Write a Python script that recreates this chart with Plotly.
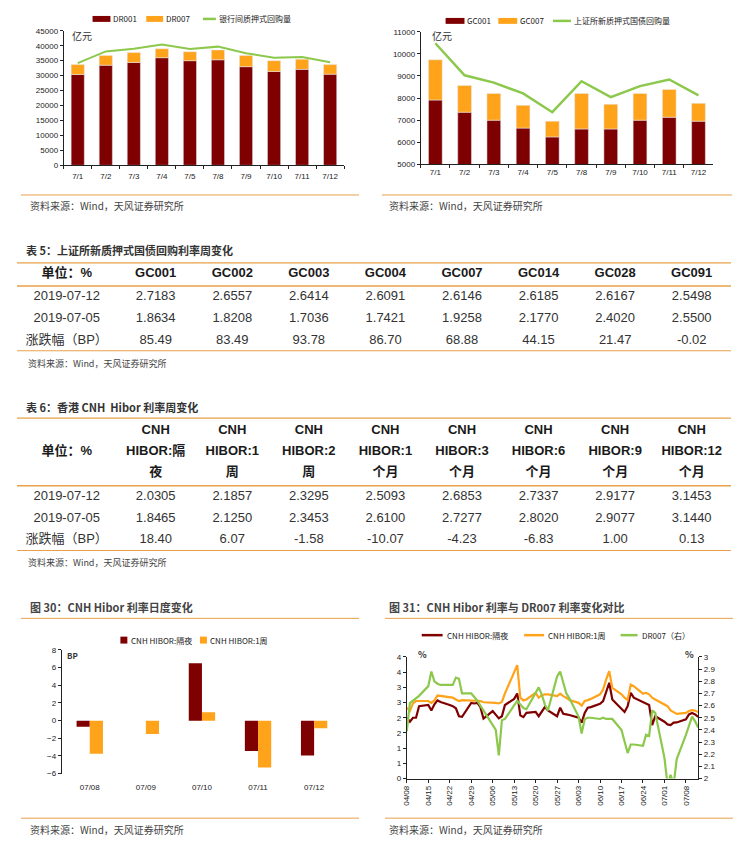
import plotly.graph_objects as go
import pandas as pd

# page size; the browser body keeps its default 8px margin, so the figure is drawn
# 16px smaller and all page coordinates are shifted by that margin
PAGE_W, PAGE_H = 741, 845
OFF = 8
W, H = PAGE_W - 2 * OFF, PAGE_H - 2 * OFF

# ---------------- data ----------------
top_days = ['7/1', '7/2', '7/3', '7/4', '7/5', '7/8', '7/9', '7/10', '7/11', '7/12']
dr001 = [30400, 33500, 34400, 36000, 35000, 35300, 33000, 31400, 32100, 30500]
dr007 = [3300, 3200, 3300, 3000, 3000, 3300, 3700, 3600, 3400, 3200]
interbank_repo = [34200, 38100, 39000, 40400, 38900, 39700, 37500, 36000, 36200, 34500]

gc001 = [7910, 7360, 7000, 6640, 6240, 6600, 6600, 7000, 7130, 6955]
gc007 = [1820, 1210, 1210, 1030, 715, 1610, 1120, 1210, 1260, 805]
sse_repo = [10480, 9030, 8700, 8210, 7360, 8760, 8040, 8540, 8840, 8120]

t5_header = ['单位：%', 'GC001', 'GC002', 'GC003', 'GC004', 'GC007', 'GC014', 'GC028', 'GC091']
t5_row_labels = ['2019-07-12', '2019-07-05', '涨跌幅（BP）']
t5_r1 = ['2.7183', '2.6557', '2.6414', '2.6091', '2.6146', '2.6185', '2.6167', '2.5498']
t5_r2 = ['1.8634', '1.8208', '1.7036', '1.7421', '1.9258', '2.1770', '2.4020', '2.5500']
t5_r3 = ['85.49', '83.49', '93.78', '86.70', '68.88', '44.15', '21.47', '-0.02']

t6_header_l1 = ['', 'CNH', 'CNH', 'CNH', 'CNH', 'CNH', 'CNH', 'CNH', 'CNH']
t6_header_l2 = ['单位：%', 'HIBOR:隔', 'HIBOR:1', 'HIBOR:2', 'HIBOR:1', 'HIBOR:3', 'HIBOR:6', 'HIBOR:9', 'HIBOR:12']
t6_header_l3 = ['', '夜', '周', '周', '个月', '个月', '个月', '个月', '个月']
t6_row_labels = ['2019-07-12', '2019-07-05', '涨跌幅（BP）']
t6_r1 = ['2.0305', '2.1857', '2.3295', '2.5093', '2.6853', '2.7337', '2.9177', '3.1453']
t6_r2 = ['1.8465', '2.1250', '2.3453', '2.6100', '2.7277', '2.8020', '2.9077', '3.1440']
t6_r3 = ['18.40', '6.07', '-1.58', '-10.07', '-4.23', '-6.83', '1.00', '0.13']

daily_dates = ['07/08', '07/09', '07/10', '07/11', '07/12']
hibor_on_chg = [-0.7, None, 6.5, -3.45, -3.95]
hibor_1w_chg = [-3.75, -1.5, 0.95, -5.3, -0.85]

hibor_dates = pd.bdate_range('2019-04-08', '2019-07-12')
hibor_on = [2.00, 1.87, 2.00, 2.00, 2.38,
            2.42, 2.24, 2.44, 2.57, 2.52,
            2.42, 2.38, 2.31, 2.05, 2.03,
            2.49, 2.47, 2.49, 2.35, 1.97,
            2.22, 2.11, 1.98, 2.05, 2.42,
            2.62, 2.80, 2.08, 2.02, 2.16,
            2.19, 2.05, 2.20, 2.35, 2.24,
            2.05, 2.33, 2.13, 2.11, 2.09,
            2.00, 1.84, 2.16, 2.33, 2.35,
            2.46, 2.55, 2.87, 3.15, 2.60,
            2.27, 2.19, 2.38, 2.82, 2.66,
            2.52, 2.46, 2.42, 1.76, 2.05,
            1.87, 1.78, 1.76, 1.84, 1.8465,
            1.95, 2.11, 2.16, 2.11, 2.0305]
hibor_1w = [2.33, 2.22, 2.47, 2.55, 2.55,
            2.55, 2.49, 2.57, 2.73, 2.72,
            2.67, 2.66, 2.60, 2.55, 2.58,
            2.57, 2.57, 2.57, 2.55, 2.51,
            2.51, 2.49, 2.47, 2.52, 2.80,
            3.48, 3.73, 2.66, 2.57, 2.60,
            2.82, 2.66, 2.74, 2.77, 2.77,
            2.71, 2.79, 2.71, 2.66, 2.58,
            2.49, 2.40, 2.55, 2.58, 2.62,
            2.77, 2.93, 3.26, 3.53, 2.98,
            2.77, 2.66, 2.58, 3.09, 3.04,
            2.79, 2.82, 2.77, 2.66, 2.60,
            2.44, 2.38, 2.24, 2.19, 2.125,
            2.16, 2.22, 2.25, 2.24, 2.1857]
dr007_rate = [2.39, 2.62, 2.64, 2.66, 2.68,
              2.76, 2.88, 2.80, 2.78, 2.77,
              2.77, 2.77, 2.83, 2.82, 2.70,
              2.70, 2.67, 2.64, 2.60, 2.56,
              2.45, 2.40, 2.19, 2.48, 2.49,
              2.61, 2.64, 2.61, 2.58, 2.57,
              2.70, 2.75, 2.69, 2.61, 2.56,
              2.84, 2.88, 2.79, 2.70, 2.66,
              2.51, 2.37, 2.49, 2.50, 2.50,
              2.49, 2.50, 2.49, 2.49, 2.49,
              2.40, 2.30, 2.21, 2.28, 2.28,
              2.27, 2.36, 2.35, 2.56, 2.54,
              2.17, 1.95, 2.03, 1.95, 2.16,
              2.36, 2.44, 2.51, 2.47, 2.42]
hibor_tick_dates = pd.date_range('2019-04-08', '2019-07-08', freq='7D')
left_ticks = [0, 0.5, 1, 1.5, 2, 2.5, 3, 3.5, 4]
left_ticktext = ['0', '1', '1', '2', '2', '3', '3', '4', '4']
right_ticks = [2, 2.1, 2.2, 2.3, 2.4, 2.5, 2.6, 2.7, 2.8, 2.9, 3]
right_ticktext = ['2', '2.1', '2.2', '2.3', '2.4', '2.5', '2.6', '2.7', '2.8', '2.9', '3']

# ---------------- styles ----------------
DARK = '#7F0000'
ORANGE = '#FFA31A'
GREEN = '#8CC84B'
RULE = '#E8A04A'
TXT = '#333333'
FONT = 'Liberation Sans, Noto Sans CJK SC, sans-serif'
CJK = 'Noto Sans CJK SC, Liberation Sans, sans-serif'


def px(x):
    return (x - OFF) / W


def py(y):
    return 1 - (y - OFF) / H


fig = go.Figure()

# chart 1
fig.add_trace(go.Bar(x=top_days, y=dr001, name='DR001', marker_color=DARK, xaxis='x', yaxis='y'))
fig.add_trace(go.Bar(x=top_days, y=dr007, name='DR007', marker_color=ORANGE, xaxis='x', yaxis='y'))
fig.add_trace(go.Scatter(x=top_days, y=interbank_repo, name='银行间质押式回购量', mode='lines',
                         line=dict(color=GREEN, width=2), xaxis='x', yaxis='y'))
# chart 2
fig.add_trace(go.Bar(x=top_days, y=gc001, name='GC001', marker_color=DARK, xaxis='x2', yaxis='y2'))
fig.add_trace(go.Bar(x=top_days, y=gc007, name='GC007', marker_color=ORANGE, xaxis='x2', yaxis='y2'))
fig.add_trace(go.Scatter(x=top_days, y=sse_repo, name='上证所新质押式国债回购量', mode='lines',
                         line=dict(color=GREEN, width=2.5), xaxis='x2', yaxis='y2'))
# chart 30
fig.add_trace(go.Bar(x=daily_dates, y=hibor_on_chg, name='CNH HIBOR:隔夜', marker_color=DARK,
                     marker_line_width=0, xaxis='x3', yaxis='y3', offsetgroup='a'))
fig.add_trace(go.Bar(x=daily_dates, y=hibor_1w_chg, name='CNH HIBOR:1周', marker_color=ORANGE,
                     marker_line_width=0, xaxis='x3', yaxis='y3', offsetgroup='b'))
# chart 31
fig.add_trace(go.Scatter(x=hibor_dates, y=hibor_on, name='CNH HIBOR:隔夜', mode='lines',
                         line=dict(color=DARK, width=2.2), xaxis='x4', yaxis='y4'))
fig.add_trace(go.Scatter(x=hibor_dates, y=hibor_1w, name='CNH HIBOR:1周', mode='lines',
                         line=dict(color=ORANGE, width=2.2), xaxis='x4', yaxis='y4'))
fig.add_trace(go.Scatter(x=hibor_dates, y=dr007_rate, name='DR007（右）', mode='lines',
                         line=dict(color=GREEN, width=2.2), xaxis='x4', yaxis='y6'))

# ---------------- tables as text on hidden axes ----------------
colw = [102] + [77] * 8
col_centers = [sum(colw[:i]) + colw[i] / 2 for i in range(len(colw))]
TAB_W = sum(colw)
ROW_H = 22
HEAD5_H = 24
HEAD6_H = 69
LINE_H = 21


def table_text(xa, ya, xs, ys, texts, bold=False, color=TXT):
    fig.add_trace(go.Scatter(
        x=xs, y=ys, text=[('<b>%s</b>' % t) if (bold and t) else t for t in texts],
        mode='text', textposition='middle center', hoverinfo='skip', showlegend=False,
        textfont=dict(family=FONT, size=13, color=color), xaxis=xa, yaxis=ya, cliponaxis=False))


table_text('x7', 'y7', col_centers, [HEAD5_H / 2] * 9, t5_header, bold=True, color='#1a1a1a')
for i, row in enumerate([t5_r1, t5_r2, t5_r3]):
    yc = HEAD5_H + ROW_H * i + ROW_H / 2
    table_text('x7', 'y7', col_centers, [yc] * 9, [t5_row_labels[i]] + row)
for j, line in enumerate([t6_header_l1, t6_header_l2, t6_header_l3]):
    yc = HEAD6_H / 2 + (j - 1) * LINE_H
    table_text('x8', 'y8', col_centers, [yc] * 9, line, bold=True, color='#1a1a1a')
for i, row in enumerate([t6_r1, t6_r2, t6_r3]):
    yc = HEAD6_H + ROW_H * i + ROW_H / 2
    table_text('x8', 'y8', col_centers, [yc] * 9, [t6_row_labels[i]] + row)

T5_TOTAL = HEAD5_H + 3 * ROW_H
T6_TOTAL = HEAD6_H + 3 * ROW_H
T5_TOP, T6_TOP = 261, 418

tickfont = dict(family=FONT, size=8, color='#222')
axline = dict(showline=True, linecolor='#222', linewidth=1, ticks='outside', ticklen=3,
              tickcolor='#222', showgrid=False, zeroline=False, tickfont=tickfont)
hidden = dict(visible=False, showgrid=False, zeroline=False)

y3_dom = [py(778), py(653)]
y3_rng = [-6, 8]
y3_zero = y3_dom[0] + (0 - y3_rng[0]) / (y3_rng[1] - y3_rng[0]) * (y3_dom[1] - y3_dom[0])

fig.update_layout(
    width=W, height=H, margin=dict(l=0, r=0, t=0, b=0),
    paper_bgcolor='white', plot_bgcolor='white', showlegend=False,
    font=dict(family=FONT, size=8, color=TXT),
    barmode='relative', bargap=0.53, bargroupgap=0,
    xaxis=dict(domain=[px(60), px(342)], anchor='y', type='category', tickson='boundaries',
               ticklabelstandoff=3, **axline),
    yaxis=dict(domain=[py(163), py(27)], anchor='x', range=[0, 45000], dtick=5000, tickformat='d', **axline),
    xaxis2=dict(domain=[px(419), px(713)], anchor='y2', type='category', tickson='boundaries', **axline),
    yaxis2=dict(domain=[py(162), py(28)], anchor='x2', range=[5000, 11000], dtick=1000, tickformat='d', **axline),
    xaxis3=dict(domain=[px(58), px(340)], anchor='y3', type='category', showline=False, ticks='',
                showgrid=False, zeroline=False, tickfont=tickfont, ticklabelstandoff=7),
    yaxis3=dict(domain=y3_dom, anchor='x3', range=y3_rng, dtick=2, **axline),
    xaxis5=dict(overlaying='x3', anchor='free', position=y3_zero, range=[-0.5, 4.5],
                tickvals=[0.5, 1.5, 2.5, 3.5, 4.5], showticklabels=False, showline=True,
                linecolor='#222', ticks='outside', ticklen=4, tickcolor='#222', showgrid=False,
                zeroline=False),
    xaxis4=dict(domain=[px(405), px(698)], anchor='y4', type='date',
                range=['2019-04-08', '2019-07-12'], tickvals=list(hibor_tick_dates),
                ticktext=[d.strftime('%m/%d') for d in hibor_tick_dates], tickangle=-90, **axline),
    yaxis4=dict(domain=[py(783), py(660)], anchor='x4', range=[0, 4], tickvals=left_ticks,
                ticktext=left_ticktext, **axline),
    yaxis6=dict(overlaying='y4', anchor='x4', side='right', range=[2, 3], tickvals=right_ticks,
                ticktext=right_ticktext, **axline),
    xaxis7=dict(domain=[px(12), px(730)], anchor='y7', range=[0, TAB_W], **hidden),
    yaxis7=dict(domain=[py(T5_TOP + T5_TOTAL), py(T5_TOP)], anchor='x7', range=[T5_TOTAL, 0], **hidden),
    xaxis8=dict(domain=[px(12), px(730)], anchor='y8', range=[0, TAB_W], **hidden),
    yaxis8=dict(domain=[py(T6_TOP + T6_TOTAL), py(T6_TOP)], anchor='x8', range=[T6_TOTAL, 0], **hidden),
)

annos = []
shapes = []


def note(text, x, y, size, bold=False, color=TXT, family=CJK, xanchor='left'):
    annos.append(dict(text=('<b>%s</b>' % text) if bold else text, x=px(x), y=py(y),
                      xref='paper', yref='paper', xanchor=xanchor, yanchor='middle',
                      showarrow=False, font=dict(family=family, size=size, color=color)))


def hrule(x0, x1, y, w, yref='paper'):
    yy = py(y) if yref == 'paper' else y
    shapes.append(dict(type='line', xref='paper', yref=yref, x0=px(x0), x1=px(x1),
                       y0=yy, y1=yy, line=dict(color=RULE, width=w)))


def leg_rect(x0, x1, y, h, color, label, tx):
    shapes.append(dict(type='rect', xref='paper', yref='paper', x0=px(x0), x1=px(x1),
                       y0=py(y + h / 2), y1=py(y - h / 2), fillcolor=color, line=dict(width=0)))
    note(label, tx, y, 8, color='#222')


def leg_line(x0, x1, y, color, label, tx):
    shapes.append(dict(type='line', xref='paper', yref='paper', x0=px(x0), x1=px(x1),
                       y0=py(y), y1=py(y), line=dict(color=color, width=2.5)))
    note(label, tx, y, 8, color='#222')


# legends (built from the trace names)
names = [t.name for t in fig.data]
leg_rect(89, 107, 15, 6, DARK, names[0], 108)
leg_rect(143, 160, 15, 6, ORANGE, names[1], 161)
leg_line(200, 213, 15, GREEN, names[2], 214)
leg_rect(444, 463, 17, 6, DARK, names[3], 464)
leg_rect(497, 516, 17, 6, ORANGE, names[4], 517)
leg_line(552, 570, 17, GREEN, names[5], 571)
leg_rect(117, 124, 643, 7, DARK, names[6], 126)
leg_rect(197, 204, 643, 7, ORANGE, names[7], 205)
leg_line(420, 441, 638, DARK, names[8], 443)
leg_line(523, 543, 638, ORANGE, names[9], 545)
leg_line(620, 637, 638, GREEN, names[10], 639)

src = '资料来源：Wind，天风证券研究所'
note('亿元', 66, 32, 10)
note('亿元', 428, 32, 10)
note(src, 24, 204, 10, color='#444')
note(src, 385, 204, 10, color='#444')
note('表 5：上证所新质押式国债回购利率周变化', 20, 249, 11, bold=True, color='#333')
note(src, 22, 363, 9, color='#444')
note('表 6：香港 CNH  Hibor 利率周变化', 20, 407, 11, bold=True, color='#333')
note(src, 22, 565, 9, color='#444')
note('图 30：CNH Hibor 利率日度变化', 24, 610, 11, bold=True, color='#444')
note('图 31：CNH Hibor 利率与 DR007 利率变化对比', 385, 610, 11, bold=True, color='#444')
note('BP', 61, 659, 8, bold=True)
note('%', 414, 658, 9, bold=True)
note('%', 696, 658, 9, bold=True, xanchor='right')
note(src, 24, 834, 10, color='#444')
note(src, 385, 834, 10, color='#444')

hrule(17, 357, 193, 1)
hrule(380, 732, 193, 1)
hrule(13, 731, 0, 2.5, 'y7')
hrule(13, 731, HEAD5_H, 1.5, 'y7')
hrule(13, 731, T5_TOTAL, 2, 'y7')
hrule(13, 731, 0, 2.5, 'y8')
hrule(13, 731, HEAD6_H, 1.5, 'y8')
hrule(13, 731, T6_TOTAL, 2, 'y8')
hrule(17, 357, 621, 1)
hrule(383, 733, 621, 1)
hrule(17, 357, 823, 1)
hrule(383, 733, 823, 1)

fig.update_layout(annotations=annos, shapes=shapes)

fig.write_html('out.html')
